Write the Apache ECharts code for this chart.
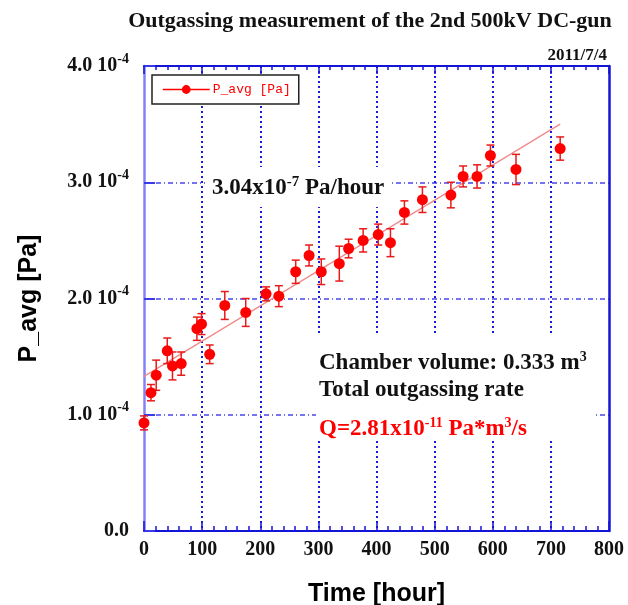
<!DOCTYPE html>
<html>
<head>
<meta charset="utf-8">
<script src="https://cdn.jsdelivr.net/npm/echarts@6/dist/echarts.min.js"></script>
<style>
  html, body { margin: 0; padding: 0; background: #fff; }
  #main { width: 628px; height: 605px; }
</style>
</head>
<body>
<div id="main"></div>
<script>
// data, pressure in units of 1e-4 Pa
var hours = [0, 12, 21, 40, 49, 64, 91, 99, 113, 139, 175, 210, 232, 261, 284, 305, 336, 352, 377, 403, 424, 448, 479, 528, 549, 573, 596, 640, 716];
var pAvg = [0.93, 1.19, 1.34, 1.55, 1.42, 1.44, 1.74, 1.78, 1.52, 1.94, 1.88, 2.04, 2.02, 2.23, 2.37, 2.23, 2.30, 2.43, 2.50, 2.55, 2.48, 2.74, 2.85, 2.89, 3.05, 3.05, 3.23, 3.11, 3.29];
var pErr = [0.06, 0.07, 0.13, 0.11, 0.12, 0.10, 0.10, 0.09, 0.08, 0.12, 0.12, 0.06, 0.09, 0.10, 0.09, 0.11, 0.15, 0.08, 0.10, 0.09, 0.12, 0.10, 0.11, 0.11, 0.09, 0.10, 0.09, 0.13, 0.10];
// linear fit 3.04e-7 Pa/hour
var fitHours = [0, 716];
var fitP = [1.33, 3.50];

var serif = '"Liberation Serif", "DejaVu Serif", serif';
var sans = '"Liberation Sans", Arial, sans-serif';
var red = '#ff0000';
var blue = '#1414d8';

var points = hours.map(function (h, i) { return [h, pAvg[i]]; });
var bars = hours.map(function (h, i) { return [h, pAvg[i] - pErr[i], pAvg[i] + pErr[i]]; });
var fit = fitHours.map(function (h, i) { return [h, fitP[i]]; });

function renderErr(params, api) {
  var x = api.value(0);
  var top = api.coord([x, api.value(2)]);
  var bot = api.coord([x, api.value(1)]);
  var w = 4;
  var st = { stroke: '#e81a1a', lineWidth: 1.5 };
  return {
    type: 'group',
    children: [
      { type: 'line', shape: { x1: top[0], y1: top[1], x2: bot[0], y2: bot[1] }, style: st },
      { type: 'line', shape: { x1: top[0] - w, y1: top[1], x2: top[0] + w, y2: top[1] }, style: st },
      { type: 'line', shape: { x1: bot[0] - w, y1: bot[1], x2: bot[0] + w, y2: bot[1] }, style: st }
    ]
  };
}

var chart = echarts.init(document.getElementById('main'));

chart.setOption({
  backgroundColor: '#fff',
  animation: false,
  title: {
    text: 'Outgassing measurement of the 2nd 500kV DC-gun',
    left: 365,
    textAlign: 'center',
    top: 5,
    textStyle: { fontFamily: serif, fontWeight: 'bold', fontSize: 22, color: '#111' }
  },
  legend: {
    left: 152,
    top: 75,
    orient: 'vertical',
    data: ['P_avg [Pa]'],
    backgroundColor: '#fff',
    borderColor: '#222',
    borderWidth: 1.5,
    borderRadius: 0,
    padding: [8, 8, 8, 10],
    itemWidth: 47,
    itemHeight: 11,
    itemGap: 0,
    lineStyle: { color: red, width: 1.5, opacity: 1 },
    textStyle: { fontFamily: '"Liberation Mono", monospace', fontSize: 13, color: red, padding: [0, 0, 0, -2] }
  },
  grid: { left: 144, right: 19, top: 66, bottom: 74, outerBoundsMode: 'none', containLabel: false },
  xAxis: [
    {
      type: 'value', min: 0, max: 800, interval: 100,
      name: 'Time [hour]', nameLocation: 'middle', nameGap: 51,
      nameTextStyle: { fontFamily: sans, fontWeight: 'bold', fontSize: 25, color: '#000' },
      axisLine: { onZero: false, lineStyle: { color: blue, width: 2 } },
      axisTick: { inside: true, length: 10, lineStyle: { color: blue, width: 1.5 } },
      minorTick: { show: true, splitNumber: 5, length: 5, lineStyle: { color: blue, width: 1.5 } },
      axisLabel: { margin: 9, fontFamily: serif, fontWeight: 'bold', fontSize: 20, color: '#111' },
      splitLine: {
        show: true, showMinLine: false, showMaxLine: false,
        lineStyle: { color: '#1a1ae0', width: 2, type: [2, 3] }
      }
    },
    {
      type: 'value', min: 0, max: 800, interval: 100, position: 'top',
      axisLine: { show: true, onZero: false, lineStyle: { color: blue, width: 2 } },
      axisTick: { show: true, inside: true, length: 8, lineStyle: { color: blue, width: 1.5 } },
      minorTick: { show: true, splitNumber: 5, length: 4, lineStyle: { color: blue, width: 1.5 } },
      axisLabel: { show: false },
      splitLine: { show: false }
    }
  ],
  yAxis: [
    {
      type: 'value', min: 0, max: 4, interval: 1,
      name: 'P_avg [Pa]', nameLocation: 'middle', nameGap: 102,
      nameTextStyle: { fontFamily: sans, fontWeight: 'bold', fontSize: 25, color: '#000' },
      axisLine: { show: true, onZero: false, lineStyle: { color: '#8282f4', width: 2.5 } },
      axisTick: { show: true, inside: true, length: 11, lineStyle: { color: '#3a3ae8', width: 2 } },
      axisLabel: {
        margin: 15,
        formatter: function (v) { return v === 0 ? '{m|0.0}' : '{m|' + v.toFixed(1) + ' 10}{s|-4}'; },
        rich: {
          m: { fontFamily: serif, fontWeight: 'bold', fontSize: 20, color: '#111', lineHeight: 28 },
          s: { fontFamily: serif, fontWeight: 'bold', fontSize: 14, color: '#111', lineHeight: 14, verticalAlign: 'top' }
        }
      },
      splitLine: {
        show: true, showMinLine: false, showMaxLine: false,
        lineStyle: { color: '#4646ea', width: 1.5, type: [5, 3, 1, 3] }
      }
    },
    {
      type: 'value', min: 0, max: 4, interval: 1, position: 'right',
      axisLine: { show: true, onZero: false, lineStyle: { color: blue, width: 2.5 } },
      axisTick: { show: false },
      axisLabel: { show: false },
      splitLine: { show: false }
    }
  ],
  series: [
    {
      type: 'line',
      name: 'fit',
      data: fit,
      symbol: 'none',
      lineStyle: { color: '#f08a8a', width: 1.3 },
      z: 3,
      silent: true
    },
    {
      type: 'custom',
      name: 'err',
      data: bars,
      renderItem: renderErr,
      z: 4,
      silent: true
    },
    {
      type: 'line',
      name: 'P_avg [Pa]',
      data: points,
      symbol: 'circle',
      symbolSize: 11,
      showAllSymbol: true,
      lineStyle: { width: 0, opacity: 0 },
      itemStyle: { color: red },
      z: 5
    }
  ],
  graphic: [
    {
      type: 'text', x: 607, y: 56, z: 10,
      style: { text: '2011/7/4', font: 'bold 17px ' + serif, fill: '#111', align: 'right', verticalAlign: 'middle' }
    },
    {
      type: 'rect', shape: { x: 205, y: 167, width: 185, height: 40 },
      style: { fill: '#fff' }, z: 6
    },
    {
      type: 'text', x: 212, y: 188, z: 10,
      style: {
        text: '{b|3.04x10}{s|-7}{b| Pa/hour}',
        verticalAlign: 'middle',
        rich: {
          b: { font: 'bold 23px ' + serif, fill: '#111', lineHeight: 26 },
          s: { font: 'bold 15px ' + serif, fill: '#111', lineHeight: 15, verticalAlign: 'top' }
        }
      }
    },
    {
      type: 'rect', shape: { x: 316, y: 335, width: 279, height: 105 },
      style: { fill: '#fff' }, z: 6
    },
    {
      type: 'text', x: 319, y: 363, z: 10,
      style: {
        text: '{b|Chamber volume: 0.333 m}{s|3}',
        verticalAlign: 'middle',
        rich: {
          b: { font: 'bold 23px ' + serif, fill: '#111', lineHeight: 26 },
          s: { font: 'bold 14px ' + serif, fill: '#111', lineHeight: 14, verticalAlign: 'top' }
        }
      }
    },
    {
      type: 'text', x: 319, y: 390, z: 10,
      style: { text: 'Total outgassing rate', font: 'bold 23px ' + serif, fill: '#111', verticalAlign: 'middle' }
    },
    {
      type: 'text', x: 319, y: 429, z: 10,
      style: {
        text: '{b|Q=2.81x10}{s|-11}{b| Pa*m}{s|3}{b|/s}',
        verticalAlign: 'middle',
        rich: {
          b: { font: 'bold 23px ' + serif, fill: red, lineHeight: 26 },
          s: { font: 'bold 14px ' + serif, fill: red, lineHeight: 14, verticalAlign: 'top' }
        }
      }
    }
  ]
});
</script>
</body>
</html>
